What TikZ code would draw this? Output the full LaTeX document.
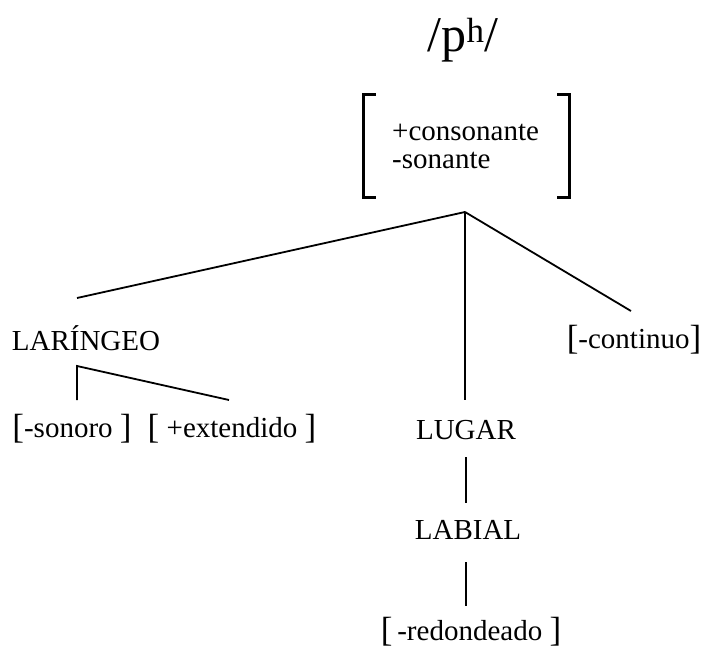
\documentclass[tikz,border=0pt]{standalone}
\usepackage{fontspec}
\setmainfont{Liberation Serif}
\usetikzlibrary{calc,positioning}
\newcommand{\opbr}{{\fontsize{35}{40}\selectfont\raisebox{-1.5pt}{[}}}
\newcommand{\clbr}{{\fontsize{35}{40}\selectfont\raisebox{-1.5pt}{]}}}
\tikzset{
  every picture/.style={font=\fontsize{29}{34}\selectfont},
  feat/.style={anchor=base,inner sep=0pt},
  segment/.style={feat,font=\fontsize{50}{56}\selectfont},
  branch/.style={draw=black,line width=1.8pt},
  bracket/.style={draw=black,line width=3pt},
}

\begin{document}
\begin{tikzpicture}[x=1pt,y=-1pt]
  \path[use as bounding box] (0,0) rectangle (703,650);
  % segment and its feature matrix
  \node[segment] (seg) at (463,52) {/p\textsuperscript{h}/};
  \node[feat,anchor=base west] (cons) at (392,140) {+consonante};
  \node[feat,anchor=base west] (sonant) at (392,168) {-sonante};
  \node[minimum width=205pt,minimum height=102pt,inner sep=0pt] (fm) at (466.5,146) {};
  \draw[bracket] ([xshift=12pt]fm.north west) -- (fm.north west) -- (fm.south west) -- ([xshift=12pt]fm.south west);
  \draw[bracket] ([xshift=-12pt]fm.north east) -- (fm.north east) -- (fm.south east) -- ([xshift=-12pt]fm.south east);
  \coordinate (root) at (465,212);
  % daughters
  \node[feat] (lar) at (86,350) {LARÍNGEO};
  \node[feat] (cont) at (634,348) {\opbr-continuo\clbr};
  \node[feat] (lugar) at (466,439) {LUGAR};
  \node[feat] (labial) at (468,539) {LABIAL};
  \node[feat] (sonoro) at (72,437) {\opbr-sonoro \clbr};
  \node[feat] (ext) at (232,437) {\opbr\ +extendido \clbr};
  \node[feat] (red) at (471,640) {\opbr\,-redondeado \clbr};
  \coordinate (larTop) at (77,298);
  \coordinate (larFoot) at (77,366);
  \coordinate (sonoroTop) at (77,400);
  \coordinate (extTop) at (229,400);
  \coordinate (lugarTop) at (465,400);
  \coordinate (contTop) at (631,311);
  \coordinate (lugarFoot) at (466,457);
  \coordinate (labialTop) at (466,503);
  \coordinate (labialFoot) at (466,562);
  \coordinate (redTop) at (466,606);
  \draw[branch] (root) -- (larTop);
  \draw[branch] (root) -- (lugarTop);
  \draw[branch] (root) -- (contTop);
  \draw[branch] (sonoroTop) -- (larFoot) -- (extTop);
  \draw[branch] (lugarFoot) -- (labialTop);
  \draw[branch] (labialFoot) -- (redTop);
\end{tikzpicture}
\end{document}
